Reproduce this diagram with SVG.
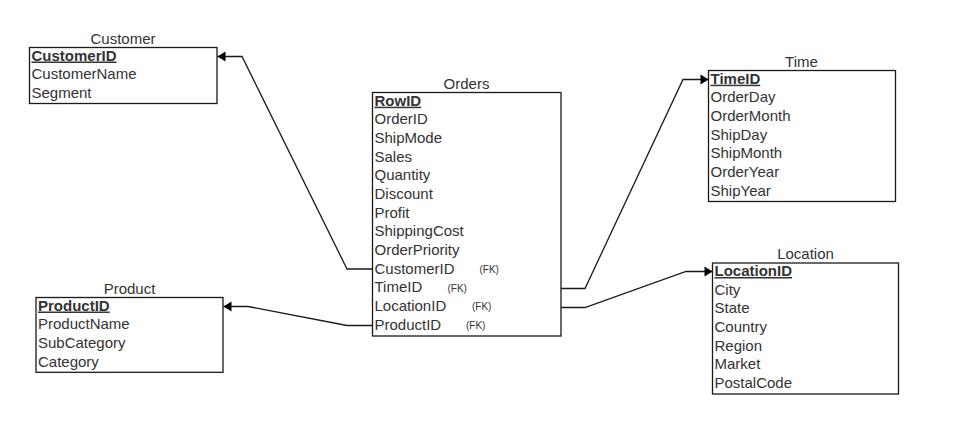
<svg xmlns="http://www.w3.org/2000/svg" width="963" height="445" viewBox="0 0 963 445">
  <style>
    .box { fill: #ffffff; stroke: #1a1a1a; stroke-width: 1.3; }
    .title { font-family: "Liberation Sans", Arial, sans-serif; font-size: 15px; fill: #333333; text-anchor: middle; }
    .field { font-family: "Liberation Sans", Arial, sans-serif; font-size: 15px; fill: #333333; }
    .key { font-weight: bold; text-decoration: underline; }
    .fk { font-family: "Liberation Sans", Arial, sans-serif; font-size: 10px; fill: #333333; }
    .link { fill: none; stroke: #1a1a1a; stroke-width: 1.3; marker-end: url(#block); }
  </style>
  <defs>
    <marker id="block" markerUnits="userSpaceOnUse" markerWidth="10" markerHeight="12" refX="9" refY="6" orient="auto">
      <path d="M1,1 L9,6 L1,11 Z" fill="#000000"/>
    </marker>
  </defs>

  <rect width="963" height="445" fill="#ffffff"/>

  <!-- Relationships -->
  <g id="connectors">
    <polyline class="link" points="372,269 347,269 242,56.5 217.5,56.5"/>
    <polyline class="link" points="372,325.5 347,325.5 248,306.5 223.5,306.5"/>
    <polyline class="link" points="561,288.5 585,288.5 683,79.5 708.5,79.5"/>
    <polyline class="link" points="561,307.5 585,307.5 686,271.5 712.5,271.5"/>
  </g>

  <!-- Customer -->
  <g id="customer">
    <text class="title" x="123" y="43.5">Customer</text>
    <rect class="box" x="29.5" y="47.5" width="187.5" height="56"/>
    <text class="field key" x="31.5" y="60.5">CustomerID</text>
    <text class="field" x="31.5" y="79.2">CustomerName</text>
    <text class="field" x="31.5" y="97.9">Segment</text>
  </g>

  <!-- Orders -->
  <g id="orders">
    <text class="title" x="466.5" y="88.5">Orders</text>
    <rect class="box" x="372.5" y="92.5" width="188.5" height="243.5"/>
    <text class="field key" x="374.5" y="105.7">RowID</text>
    <text class="field" x="374.5" y="124.4">OrderID</text>
    <text class="field" x="374.5" y="143">ShipMode</text>
    <text class="field" x="374.5" y="161.7">Sales</text>
    <text class="field" x="374.5" y="180.3">Quantity</text>
    <text class="field" x="374.5" y="199">Discount</text>
    <text class="field" x="374.5" y="217.6">Profit</text>
    <text class="field" x="374.5" y="236.3">ShippingCost</text>
    <text class="field" x="374.5" y="254.9">OrderPriority</text>
    <text class="field" x="374.5" y="273.6">CustomerID</text>
    <text class="fk" x="479.5" y="273">(FK)</text>
    <text class="field" x="374.5" y="292.2">TimeID</text>
    <text class="fk" x="447.5" y="291.6">(FK)</text>
    <text class="field" x="374.5" y="310.9">LocationID</text>
    <text class="fk" x="472" y="310.3">(FK)</text>
    <text class="field" x="374.5" y="329.5">ProductID</text>
    <text class="fk" x="466" y="328.9">(FK)</text>
  </g>

  <!-- Time -->
  <g id="time">
    <text class="title" x="801.5" y="66.5">Time</text>
    <rect class="box" x="708.5" y="70.5" width="187" height="131"/>
    <text class="field key" x="710.5" y="83.7">TimeID</text>
    <text class="field" x="710.5" y="102.4">OrderDay</text>
    <text class="field" x="710.5" y="121">OrderMonth</text>
    <text class="field" x="710.5" y="139.7">ShipDay</text>
    <text class="field" x="710.5" y="158.3">ShipMonth</text>
    <text class="field" x="710.5" y="177">OrderYear</text>
    <text class="field" x="710.5" y="195.6">ShipYear</text>
  </g>

  <!-- Location -->
  <g id="location">
    <text class="title" x="805.5" y="258.8">Location</text>
    <rect class="box" x="712.5" y="263" width="186" height="131"/>
    <text class="field key" x="714.5" y="276">LocationID</text>
    <text class="field" x="714.5" y="294.7">City</text>
    <text class="field" x="714.5" y="313.3">State</text>
    <text class="field" x="714.5" y="332">Country</text>
    <text class="field" x="714.5" y="350.6">Region</text>
    <text class="field" x="714.5" y="369.3">Market</text>
    <text class="field" x="714.5" y="387.9">PostalCode</text>
  </g>

  <!-- Product -->
  <g id="product">
    <text class="title" x="129.5" y="293.5">Product</text>
    <rect class="box" x="36" y="297.5" width="187" height="74.8"/>
    <text class="field key" x="38" y="310.5">ProductID</text>
    <text class="field" x="38" y="329.2">ProductName</text>
    <text class="field" x="38" y="347.8">SubCategory</text>
    <text class="field" x="38" y="366.5">Category</text>
  </g>
</svg>
